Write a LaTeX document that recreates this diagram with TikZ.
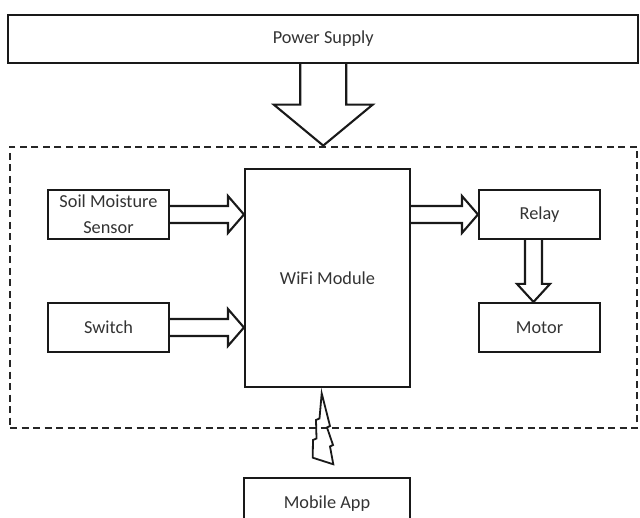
\documentclass[tikz,border=0pt]{standalone}
\usepackage{fontspec}
\setmainfont{Carlito}
\usetikzlibrary{calc}
\begin{document}
\begin{tikzpicture}[x=1pt,y=-1pt,
  box/.style={draw=black!90, line width=2.1pt, rectangle, inner sep=0pt, align=center,
    text=black!80, font=\fontsize{18.3}{26}\selectfont, minimum width=121pt, minimum height=49pt},
  blk/.style={draw=black!90, line width=2.1pt, line join=miter},
  frame/.style={draw=black!85, line width=2.8pt, dash pattern=on 7pt off 4.5pt, rectangle, inner sep=0pt}]
\useasboundingbox (0,0) rectangle (640,518);

% nodes
\node[box, minimum width=630pt, minimum height=48pt] (ps) at (323.25,39) {Power Supply};
\node[frame, minimum width=627pt, minimum height=281pt] (sys) at (323.5,287.5) {};
\node[box, minimum width=165pt, minimum height=218pt] (wifi) at (327.5,278) {WiFi Module};
\node[box] (soil) at (108.5,214.5) {Soil Moisture\\Sensor};
\node[box] (sw) at (108.5,327.5) {Switch};
\node[box] (relay) at (539.5,214.5) {Relay};
\node[box] (motor) at (539.5,327.5) {Motor};
\node[box, minimum width=166pt, minimum height=52pt] (app) at (327,504) {\raisebox{2pt}{Mobile App}};

% power arrow
\draw[blk] let \p1=(ps.south), \p2=(sys.north) in
  (\x1-23pt,\y1) -- (\x1-23pt,\y2+41pt) -- (\x1-49.5pt,\y2+41pt) -- (\x1,\y2)
  -- (\x1+49.5pt,\y2+41pt) -- (\x1+23pt,\y2+41pt) -- (\x1+23pt,\y1);

% right block arrows
\draw[blk] let \p1=(soil.east), \p2=(wifi.west|-soil.east) in
  (\x1,\y1+8.5pt) -- (\x2-16pt,\y1+8.5pt) -- (\x2-16pt,\y1+18.5pt) -- (\x2,\y1)
  -- (\x2-16pt,\y1-18.5pt) -- (\x2-16pt,\y1-8.5pt) -- (\x1,\y1-8.5pt);
\draw[blk] let \p1=(sw.east), \p2=(wifi.west|-sw.east) in
  (\x1,\y1+8.5pt) -- (\x2-16pt,\y1+8.5pt) -- (\x2-16pt,\y1+18.5pt) -- (\x2,\y1)
  -- (\x2-16pt,\y1-18.5pt) -- (\x2-16pt,\y1-8.5pt) -- (\x1,\y1-8.5pt);
\draw[blk] let \p1=(wifi.east|-relay.west), \p2=(relay.west) in
  (\x1,\y1+8.5pt) -- (\x2-16pt,\y1+8.5pt) -- (\x2-16pt,\y1+18.5pt) -- (\x2,\y1)
  -- (\x2-16pt,\y1-18.5pt) -- (\x2-16pt,\y1-8.5pt) -- (\x1,\y1-8.5pt);

% relay -> motor
\draw[blk] let \p1=(relay.south), \p2=(motor.north) in
  (\x1-14.5pt,\y1) -- (\x1-14.5pt,\y2+18pt) -- (\x1-22.5pt,\y2+18pt) -- (\x1-6pt,\y2)
  -- (\x1+10.5pt,\y2+18pt) -- (\x1+2.5pt,\y2+18pt) -- (\x1+2.5pt,\y1);

% lightning bolt (wireless link)
\draw[blk, line width=1.8pt] (321.7,393.3) -- (330,426) -- (327,427.5) -- (333,445) -- (330,446.5)
  -- (333.3,464.3) -- (312.7,457.7) -- (313,440) -- (316.5,438.5) -- (316,420) -- (319.5,418.5) -- cycle;
\end{tikzpicture}
\end{document}
